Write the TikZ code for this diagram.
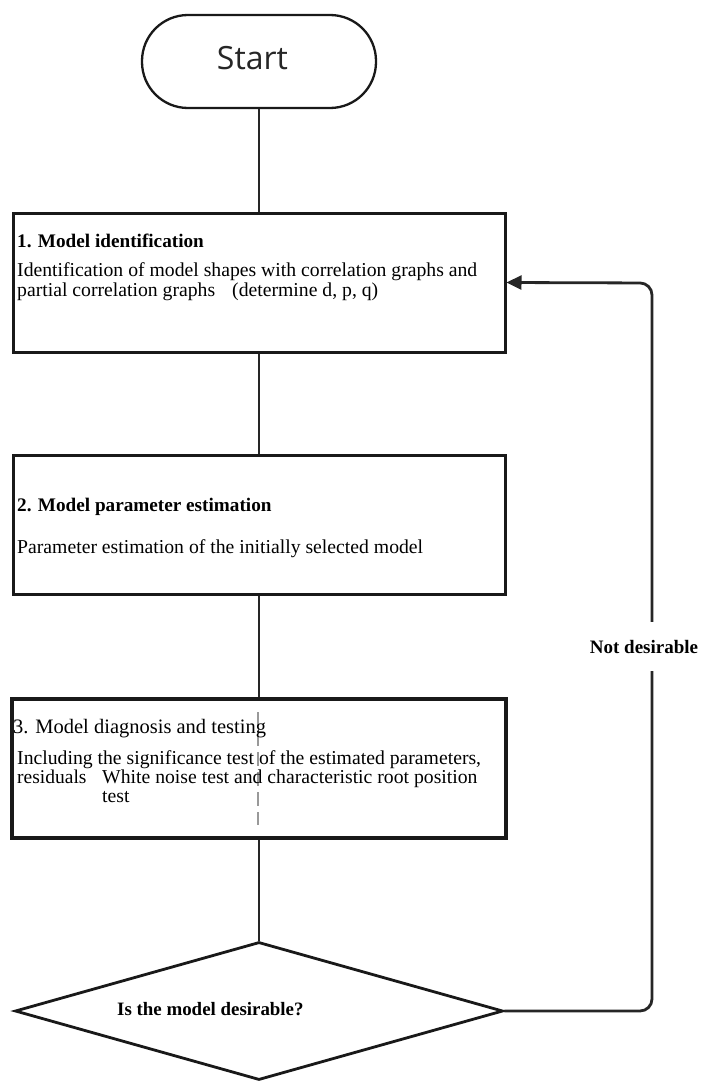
\documentclass[tikz,border=0pt]{standalone}
\usepackage{fontspec}
\setmainfont{Liberation Serif}
\newfontfamily\startfont{Open Sans}
\usetikzlibrary{shapes.geometric,arrows.meta}
\tikzset{
  box/.style={draw=black!90, line width=3pt, minimum width=492pt, minimum height=139pt, inner sep=0pt, fill=white},
  conn/.style={draw=black!85, line width=2.8pt},
  txt/.style={anchor=base west, inner sep=0pt, font=\fontsize{19.7}{20}\selectfont},
  head/.style={anchor=base west, inner sep=0pt, font=\fontsize{19.2}{20}\selectfont\bfseries},
}
\begin{document}
\begin{tikzpicture}[x=1pt,y=-1pt]
\useasboundingbox[fill=white] (0,0) rectangle (701,1081);
% nodes (shapes)
\node[draw=black!90, line width=2.3pt, rounded corners=46pt, minimum width=234pt, minimum height=93pt, inner sep=0pt] (start) at (259,61.5) {};
\node[box] (b1) at (259,282.5) {};
\node[box] (b2) at (259,525) {};
\node[box, line width=4.5pt, minimum width=494pt] (b3) at (259,768.5) {};
\node[draw=black!90, line width=2.8pt, diamond, minimum width=488pt, minimum height=138pt, inner sep=0pt] (dia) at (259,1011) {};
% connectors
\draw[conn] (start.south) -- (b1.north);
\draw[conn] (b1.south) -- (b2.north);
\draw[conn] (b2.south) -- (b3.north);
\draw[conn] (b3.south) -- (dia.north);
\coordinate (fb) at (652,283);
\draw[conn, rounded corners=12pt, -{Triangle[length=15pt,width=14pt]}] (dia.east) -| (fb) -- (b1.east);
\node[anchor=base, fill=white, inner xsep=2pt, inner ysep=18pt, font=\fontsize{19}{19}\selectfont\bfseries] (nd) at (644,653) {Not desirable};
% faint artifact line in box 3
\draw[black!40, line width=1.5pt, dash pattern=on 14pt off 6pt] (258,712) -- (258,825);
% texts
\node[anchor=base, inner sep=0pt, font=\startfont\fontsize{32}{32}\selectfont, text=black!85] (ts) at (252.5,70) {Start};
\node[head] (h1) at (17,247) {1. Model identification};
\node[txt] (l11) at (17,276) {Identification of model shapes with correlation graphs and};
\node[txt] (l12) at (17,296) {partial correlation graphs};
\node[txt] (l13) at (232,296) {(determine d, p, q)};
\node[head] (h2) at (17,511) {2. Model parameter estimation};
\node[txt] (l21) at (17,553) {Parameter estimation of the initially selected model};
\node[txt, font=\fontsize{20.5}{20}\selectfont] (h3) at (13,733) {3. Model diagnosis and testing};
\node[txt] (l31) at (17,764) {Including the significance test of the estimated parameters,};
\node[txt, font=\fontsize{19.5}{20}\selectfont] (l32) at (17,783) {residuals};
\node[txt] (l33) at (102,783) {White noise test and characteristic root position};
\node[txt] (l34) at (102,802) {test};
\node[anchor=base west, inner sep=0pt, font=\fontsize{18.9}{19}\selectfont\bfseries] (dt) at (117,1015) {Is the model desirable?};
\end{tikzpicture}
\end{document}
